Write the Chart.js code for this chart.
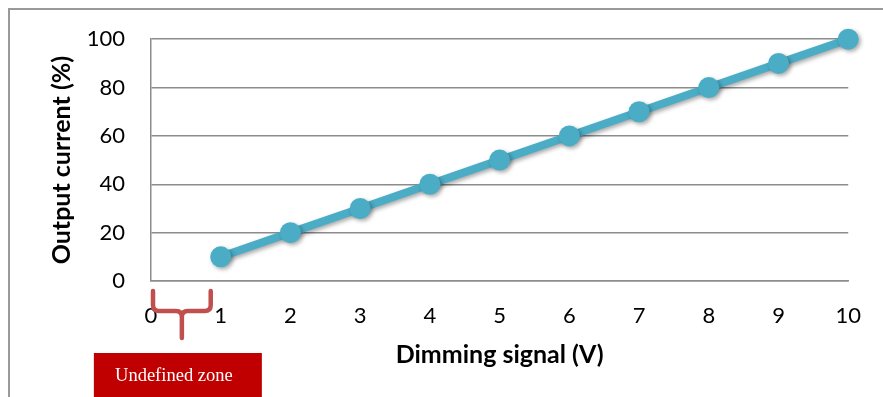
<!DOCTYPE html>
<html>
<head>
<meta charset="utf-8">
<script src="https://cdn.jsdelivr.net/npm/chart.js@4.4.1/dist/chart.umd.min.js"></script>
<style>
  html, body { margin: 0; padding: 0; background: #fff; }
  #wrap { width: 883px; height: 397px; }
</style>
</head>
<body>
<div id="wrap"><canvas id="dimChart" width="883" height="397"></canvas></div>
<script>
// dimming curve
const voltages = [1, 2, 3, 4, 5, 6, 7, 8, 9, 10];
const currentPct = [10, 20, 30, 40, 50, 60, 70, 80, 90, 100];
const xRange = [0, 10];
const yRange = [0, 100];
const zoneRange = [0, 1]; // undefined zone under the brace
const zoneLabel = 'Undefined zone';

const lineColor = '#4bacc6';
const gridColor = '#8c8c8c';
const tickFont = { family: 'Lato', size: 22 };
const titleFont = { family: 'Lato', size: 25, weight: 'bold' };

// outer frame (only top + left are visible in the crop)
const framePlugin = {
  id: 'frame',
  beforeDraw(chart) {
    const ctx = chart.ctx;
    ctx.save();
    ctx.strokeStyle = '#9a9a9a';
    ctx.lineWidth = 2;
    ctx.beginPath();
    ctx.moveTo(9, chart.height);
    ctx.lineTo(9, 9);
    ctx.lineTo(chart.width, 9);
    ctx.stroke();
    ctx.restore();
  }
};

// soft shadow under the line and markers
const shadowPlugin = {
  id: 'shadow',
  beforeDatasetsDraw(chart) {
    const ctx = chart.ctx;
    ctx.save();
    ctx.shadowColor = 'rgba(0,0,0,0.35)';
    ctx.shadowBlur = 4;
    ctx.shadowOffsetX = 2;
    ctx.shadowOffsetY = 2;
  },
  afterDatasetsDraw(chart) {
    chart.ctx.restore();
  }
};

// brace + red label box marking the undefined zone
const zonePlugin = {
  id: 'zone',
  afterDraw(chart) {
    const ctx = chart.ctx;
    const xs = chart.scales.x;
    const x0 = xs.getPixelForValue(zoneRange[0]) + 2;
    const x1 = xs.getPixelForValue(zoneRange[1]) - 10;
    const mid = (x0 + x1) / 2;
    const top = chart.chartArea.bottom + 10;
    const bar = top + 20;
    const tip = bar + 27;
    const r = 6;

    ctx.save();
    ctx.strokeStyle = '#c0504d';
    ctx.lineWidth = 4.5;
    ctx.lineCap = 'round';
    ctx.beginPath();
    ctx.moveTo(x0, top);
    ctx.lineTo(x0, bar - r);
    ctx.quadraticCurveTo(x0, bar, x0 + r, bar);
    ctx.lineTo(mid - r, bar);
    ctx.quadraticCurveTo(mid, bar, mid, bar + r);
    ctx.lineTo(mid, tip);
    ctx.moveTo(mid, bar + r);
    ctx.quadraticCurveTo(mid, bar, mid + r, bar);
    ctx.lineTo(x1 - r, bar);
    ctx.quadraticCurveTo(x1, bar, x1, bar - r);
    ctx.lineTo(x1, top);
    ctx.stroke();

    const boxW = 168, boxH = 44;
    const bx = mid - boxW / 2 - 4;
    const by = tip + 15;
    ctx.fillStyle = '#c00000';
    ctx.fillRect(bx, by, boxW, boxH);
    ctx.fillStyle = '#ffffff';
    ctx.font = '18.5px "Liberation Serif", "Times New Roman", serif';
    ctx.textAlign = 'center';
    ctx.textBaseline = 'middle';
    ctx.fillText(zoneLabel, bx + boxW / 2 - 4, by + 23);
    ctx.restore();
  }
};

const ctx = document.getElementById('dimChart').getContext('2d');
new Chart(ctx, {
  type: 'line',
  data: {
    datasets: [{
      label: 'Output current',
      data: voltages.map((v, i) => ({ x: v, y: currentPct[i] })),
      borderColor: lineColor,
      backgroundColor: lineColor,
      borderWidth: 8,
      pointRadius: 10.5,
      pointHoverRadius: 10.5,
      pointBorderWidth: 0,
      tension: 0,
      clip: false
    }]
  },
  options: {
    responsive: false,
    animation: false,
    layout: { padding: { left: 0, top: 38, right: 32, bottom: 0 } },
    plugins: {
      legend: { display: false },
      tooltip: { enabled: false }
    },
    scales: {
      x: {
        type: 'linear',
        min: xRange[0],
        max: xRange[1],
        afterFit: s => { s.height = 116; },
        grid: { display: false, drawTicks: false },
        border: { display: true, color: gridColor, width: 1.5 },
        ticks: { stepSize: 1, padding: 22, color: '#000', font: tickFont },
        title: {
          display: true,
          text: 'Dimming signal (V)',
          color: '#000',
          font: titleFont,
          padding: { top: 0, bottom: 27 }
        }
      },
      y: {
        min: yRange[0],
        max: yRange[1],
        afterFit: s => { s.width = 151; },
        grid: { color: gridColor, lineWidth: 1.5, drawTicks: false },
        border: { display: true, color: gridColor, width: 1.5 },
        ticks: { stepSize: 20, padding: 26, color: '#000', font: tickFont },
        title: {
          display: true,
          text: 'Output current (%)',
          color: '#000',
          font: titleFont,
          padding: { top: 47, bottom: 0 }
        }
      }
    }
  },
  plugins: [framePlugin, shadowPlugin, zonePlugin]
});
</script>
</body>
</html>
